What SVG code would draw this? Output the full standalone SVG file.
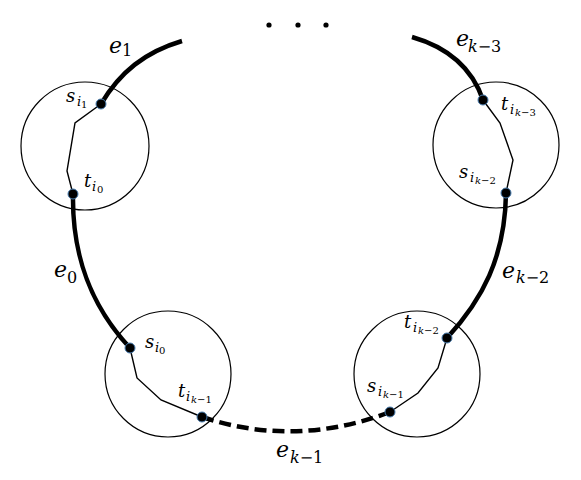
<svg xmlns="http://www.w3.org/2000/svg" width="581" height="480" viewBox="0 0 581 480">
<style>
.ring{fill:none;stroke:#000;stroke-width:1.2}
.inner{fill:none;stroke:#000;stroke-width:1.4;stroke-linejoin:miter}
.edge{fill:none;stroke:#000;stroke-width:4.5;stroke-linecap:butt}
.dash{stroke-dasharray:12 6}
.v{fill:#000;stroke:#4A7EB0;stroke-width:1}
.lab{font-family:"DejaVu Serif","Liberation Serif",serif;font-style:italic;fill:#000}
.up{font-style:normal}
.big{font-size:22px}
.sub{font-size:16px}
.sm{font-size:18px}
.s1{font-size:13px}
.s2{font-size:10px}
</style>
<rect width="581" height="480" fill="#fff"/>
<g id="connectors">
<path class="edge" d="M101,104 C120,72 145,52 182,41"/>
<path class="edge" d="M73,194 C72,255 90,305 130,348"/>
<path class="edge dash" d="M202,417 Q295,448 390,412"/>
<path class="edge" d="M447,338 C482,300 505,258 506,193"/>
<path class="edge" d="M483,100 C470,62 440,45 412,37"/>
<text class="lab"><tspan class="big" x="109" y="53">e</tspan><tspan class="sub up" x="122" y="56">1</tspan></text>
<text class="lab"><tspan class="big" x="54" y="277">e</tspan><tspan class="sub up" x="67" y="283">0</tspan></text>
<text class="lab"><tspan class="big" x="276" y="457">e</tspan><tspan class="sub" x="290" y="463">k</tspan><tspan class="sub up">−1</tspan></text>
<text class="lab"><tspan class="big" x="502" y="278">e</tspan><tspan class="sub" x="516" y="283">k</tspan><tspan class="sub up">−2</tspan></text>
<text class="lab"><tspan class="big" x="456" y="46">e</tspan><tspan class="sub" x="468" y="52">k</tspan><tspan class="sub up">−3</tspan></text>
</g>
<g id="node-a">
<circle class="ring" cx="85" cy="146" r="64"/>
<polyline class="inner" points="101,104 75,123 67,171 73,194"/>
<circle class="v" cx="101" cy="104" r="5"/>
<circle class="v" cx="73" cy="194" r="5"/>
<text class="lab"><tspan class="sm" x="66" y="102">s</tspan><tspan class="s1" x="77" y="106">i</tspan><tspan class="s2 up" x="81" y="108">1</tspan></text>
<text class="lab"><tspan class="sm" x="84" y="187">t</tspan><tspan class="s1" x="92" y="191">i</tspan><tspan class="s2 up" x="97" y="193">0</tspan></text>
</g>
<g id="node-b">
<circle class="ring" cx="168" cy="374" r="63"/>
<polyline class="inner" points="130,348 137,378 161,400 202,417"/>
<circle class="v" cx="130" cy="348" r="5"/>
<circle class="v" cx="202" cy="417" r="5"/>
<text class="lab"><tspan class="sm" x="145" y="348">s</tspan><tspan class="s1" x="155" y="352">i</tspan><tspan class="s2 up" x="159" y="354">0</tspan></text>
<text class="lab"><tspan class="sm" x="178" y="397">t</tspan><tspan class="s1" x="186" y="401">i</tspan><tspan class="s2" x="191" y="403">k</tspan><tspan class="s2 up">−1</tspan></text>
</g>
<g id="node-c">
<circle class="ring" cx="417" cy="374" r="63"/>
<polyline class="inner" points="390,412 418,393 438,368 447,338"/>
<circle class="v" cx="390" cy="412" r="5"/>
<circle class="v" cx="447" cy="338" r="5"/>
<text class="lab"><tspan class="sm" x="404" y="328">t</tspan><tspan class="s1" x="413" y="332">i</tspan><tspan class="s2" x="418" y="334">k</tspan><tspan class="s2 up">−2</tspan></text>
<text class="lab"><tspan class="sm" x="367" y="392">s</tspan><tspan class="s1" x="378" y="396">i</tspan><tspan class="s2" x="383" y="398">k</tspan><tspan class="s2 up">−1</tspan></text>
</g>
<g id="node-d">
<circle class="ring" cx="496" cy="145" r="63"/>
<polyline class="inner" points="483,100 500,123 513,160 506,193"/>
<circle class="v" cx="483" cy="100" r="5"/>
<circle class="v" cx="506" cy="193" r="5"/>
<text class="lab"><tspan class="sm" x="501" y="110">t</tspan><tspan class="s1" x="510" y="114">i</tspan><tspan class="s2" x="515" y="116">k</tspan><tspan class="s2 up">−3</tspan></text>
<text class="lab"><tspan class="sm" x="459" y="178">s</tspan><tspan class="s1" x="470" y="182">i</tspan><tspan class="s2" x="475" y="184">k</tspan><tspan class="s2 up">−2</tspan></text>
</g>
<g id="ellipsis">
<circle cx="269" cy="25" r="2.6" fill="#000"/>
<circle cx="298" cy="25" r="2.6" fill="#000"/>
<circle cx="326" cy="25" r="2.6" fill="#000"/>
</g>
</svg>
